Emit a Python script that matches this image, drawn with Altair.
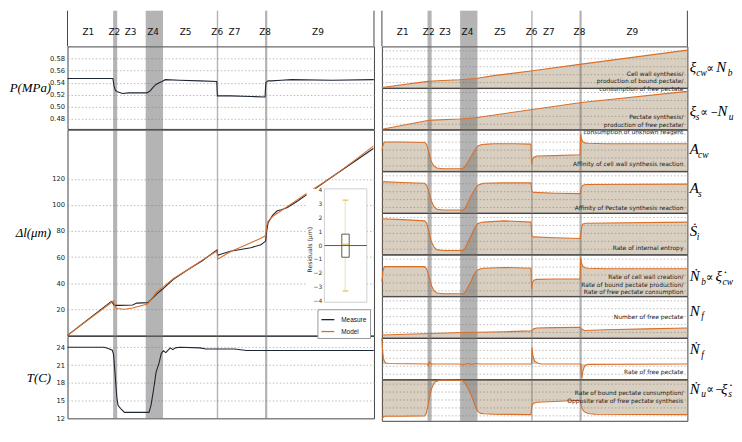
import altair as alt
import pandas as pd

# ---------------- zones / bands ----------------
ZONES = ["Z1", "Z2", "Z3", "Z4", "Z5", "Z6", "Z7", "Z8", "Z9"]
ZONE_T = [10.2, 23.0, 31.0, 42.0, 58.0, 73.5, 82.0, 97.0, 123.0]
BAND_START = [22.4, 38.4, 73.3, 97.0]
BAND_END = [24.4, 46.9, 74.0, 98.1]
TIME_TICKS = [0, 20, 40, 60, 80, 100, 120, 140]

P_TICKS = [0.48, 0.50, 0.52, 0.54, 0.56, 0.58]
DL_TICKS = [20, 40, 60, 80, 100, 120]
T_TICKS = [12, 15, 18, 21, 24]
R_GRID = [0.14, 0.33, 0.52, 0.71, 0.90]
RES_TICKS = [-4, -3, -2, -1, 0, 1, 2, 3, 4]

# ---------------- left column series ----------------
P_T = [0, 22.3, 22.8, 23.5, 24.5, 27, 30, 39, 40.5, 42, 43.5, 45, 46.5, 48, 55, 65, 73.3, 73.6,
       80, 90, 97.0, 97.4, 98.5, 100, 105, 110, 130, 150.4]
P_V = [0.547, 0.547, 0.535, 0.527, 0.525, 0.522, 0.523, 0.523, 0.526, 0.532, 0.537, 0.540, 0.542,
       0.545, 0.544, 0.543, 0.542, 0.518, 0.518, 0.517, 0.516, 0.540, 0.543, 0.543, 0.544, 0.545,
       0.544, 0.545]

DLM_T = [0, 21.5, 22.3, 23, 26, 32, 34, 39.5, 41.5, 44, 46.6, 52, 59.8, 66, 73.4, 73.8, 76, 80,
         85, 90, 95, 97.3, 97.8, 98.5, 100.7, 103, 105, 108, 113, 120, 128, 135, 142, 150.2]
DLM_V = [0, 26.0, 24.5, 23.0, 23.0, 23.2, 24.7, 25.1, 28.2, 32.0, 35.3, 43.0, 51.0, 57.0, 65.5,
         61.4, 62.5, 64.5, 65.8, 67.2, 69.5, 72.3, 80.0, 86.3, 92.0, 95.5, 96.3, 98.0, 103.0,
         110.6, 119.5, 127.0, 134.5, 143.3]

DLO_T = [0, 22.7, 23.3, 24, 28, 32, 39.3, 42, 44, 46.6, 52, 59.8, 66, 73.4, 73.8, 76, 80.4, 85,
         90, 95, 97.3, 97.8, 98.5, 101, 104.7, 110, 120, 130, 140, 150.2]
DLO_V = [0, 26.5, 22.0, 20.5, 20.0, 21.0, 24.0, 29.5, 33.5, 36.6, 43.5, 51.0, 57.5, 64.7, 58.4,
         60.5, 64.5, 67.5, 71.0, 74.5, 76.5, 84.0, 87.5, 91.5, 95.3, 101.0, 111.5, 121.5, 133.0,
         145.1]

T_T = [0, 18, 20, 22, 22.6, 23.5, 24.2, 24.8, 26, 28, 40, 41, 42.2, 43.5, 45, 46, 47, 48.3, 49.4,
       50.5, 51.7, 53, 55, 65, 68, 82, 88, 150.4]
T_V = [24.0, 24.0, 23.8, 23.5, 22.8, 18.9, 15.6, 14.2, 13.7, 13.0, 13.0, 14.2, 16.7, 19.8, 21.4,
       22.9, 23.4, 23.1, 23.5, 23.9, 23.6, 23.9, 24.0, 23.9, 23.7, 23.7, 23.45, 23.45]

# residual box plot (um)
RES_Q1, RES_Q3, RES_MED, RES_LO, RES_HI = -0.85, 0.83, 0.1, -3.3, 3.3

# ---------------- right column series (relative units) ----------------
XI_CW = [(0, 0.0), (22.5, 0.15), (25, 0.16), (38, 0.19), (46, 0.22), (55, 0.29), (74, 0.41),
         (98, 0.57), (150, 0.91)]
XI_S = [(0, 0.0), (22.5, 0.21), (25, 0.22), (38, 0.25), (46, 0.28), (74, 0.48), (98, 0.65),
        (150, 0.92)]
A_CW = [(0, 0.50), (0.5, 0.62), (1.2, 0.70), (10, 0.70), (21, 0.69), (22, 0.64), (22.8, 0.50),
        (23.5, 0.36), (24.3, 0.22), (25.5, 0.12), (27, 0.07), (30, 0.05), (39.5, 0.05),
        (40.5, 0.09), (41.5, 0.16), (42.5, 0.24), (43.7, 0.34), (45, 0.45), (46.2, 0.55),
        (47.3, 0.61), (49, 0.64), (52, 0.65), (55, 0.66), (65, 0.66), (73.2, 0.65), (73.5, 0.16),
        (73.9, 0.28), (74.6, 0.33), (76, 0.36), (85, 0.37), (97.3, 0.39), (97.6, 0.89),
        (98.0, 0.78), (98.6, 0.71), (99.5, 0.68), (101, 0.67), (110, 0.66), (150, 0.66)]
A_S = [(0, 0.75), (10, 0.73), (21, 0.71), (22, 0.66), (22.8, 0.55), (23.5, 0.43), (24.3, 0.28),
       (25.5, 0.15), (27, 0.08), (30, 0.06), (40, 0.06), (41, 0.12), (42, 0.22), (43, 0.32),
       (44, 0.42), (45, 0.51), (46, 0.59), (47, 0.66), (48.5, 0.69), (50, 0.71), (60, 0.72),
       (73.2, 0.72), (73.6, 0.52), (74.5, 0.49), (85, 0.47), (97.3, 0.46), (97.8, 0.58),
       (98.5, 0.66), (100, 0.68), (150, 0.69)]
S_I = [(0, 0.86), (10, 0.84), (21, 0.81), (22, 0.75), (22.8, 0.60), (23.5, 0.46), (24.3, 0.30),
       (25.5, 0.18), (27, 0.11), (30, 0.09), (40, 0.09), (41, 0.16), (42, 0.27), (43, 0.37),
       (44, 0.47), (45, 0.58), (46, 0.67), (47, 0.74), (48.5, 0.77), (50, 0.78), (60, 0.81),
       (73.2, 0.78), (73.6, 0.45), (74.5, 0.42), (85, 0.40), (97.3, 0.38), (97.8, 0.58),
       (98.5, 0.73), (100, 0.75), (150, 0.78)]
N_B = [(0, 0.35), (0.5, 0.60), (1.2, 0.71), (10, 0.71), (21, 0.71), (22, 0.65), (22.8, 0.53),
       (23.5, 0.40), (24.3, 0.25), (25.5, 0.13), (27, 0.07), (30, 0.05), (40, 0.05), (41, 0.10),
       (42, 0.19), (43, 0.28), (44, 0.38), (45, 0.50), (46, 0.58), (47, 0.63), (48.5, 0.66),
       (50, 0.67), (60, 0.69), (73.2, 0.67), (73.5, 0.16), (73.9, 0.32), (74.6, 0.38), (76, 0.40),
       (85, 0.41), (97.3, 0.41), (97.6, 0.93), (98.0, 0.80), (98.6, 0.72), (99.5, 0.69),
       (101, 0.67), (110, 0.66), (150, 0.66)]
N_F = [(0, 0.06), (20, 0.09), (40, 0.12), (60, 0.14), (73.3, 0.16), (74.5, 0.21), (76, 0.23),
       (85, 0.24), (97.3, 0.25), (98.2, 0.20), (99.5, 0.17), (110, 0.19), (130, 0.21), (150, 0.23)]
NF_DOT = [(0, 1.0), (0.3, 0.72), (0.7, 0.52), (1.2, 0.43), (2, 0.39), (3, 0.38), (22.4, 0.37),
          (22.8, 0.33), (23.2, 0.42), (23.7, 0.40), (24.3, 0.36), (25, 0.37), (38, 0.37),
          (40, 0.35), (42, 0.38), (44, 0.36), (46, 0.38), (48, 0.37), (73.4, 0.37), (73.7, 0.77),
          (74.2, 0.55), (75, 0.44), (76.5, 0.39), (78, 0.37), (97.6, 0.37), (97.9, 0.15),
          (98.2, 0.02), (98.7, 0.20), (99.5, 0.31), (101, 0.36), (150, 0.37)]
NF_DOT_ZERO = 0.37
N_U = [(0, 0.03), (0.5, 0.08), (1.2, 0.11), (10, 0.11), (21, 0.12), (21.8, 0.18), (22.5, 0.33),
       (23.3, 0.55), (24.0, 0.72), (24.7, 0.82), (25.5, 0.90), (26.3, 0.95), (28, 0.98),
       (30, 0.99), (39.5, 0.98), (40.5, 0.93), (41.5, 0.85), (42.5, 0.76), (43.5, 0.66),
       (44.5, 0.54), (45.5, 0.40), (46.5, 0.27), (47.5, 0.21), (48.5, 0.18), (50, 0.17),
       (55, 0.16), (73.2, 0.15), (73.6, 0.35), (74.3, 0.42), (76, 0.45), (85, 0.47), (97.3, 0.50),
       (97.7, 0.40), (98.3, 0.30), (99, 0.24), (100, 0.20), (102, 0.17), (105, 0.16), (150, 0.15)]

# ---------------- style ----------------
DARK = "#1e2633"
ORANGE = "#d9702a"
TAN = "#7a5a2a"
TAN_OP = 0.29
BAND = "#6a6a6a"
BAND_OP = 0.5
GRID = "#a0a0a0"
FRAME = "#444444"

W_L, W_R = 309, 308
H_HEAD = 36
H_P, H_DL, H_T = 83.2, 207.3, 83
H_R = 41.5
XL = [0, 150.5]
XR = [0, 150]

bands_df = pd.DataFrame({"start": BAND_START, "end": BAND_END})
dummy = pd.DataFrame({"k": [0]})


def xscale(dom):
    return alt.Scale(domain=dom, nice=False, zero=False)


def grid_x_axis(bottom):
    if bottom:
        return alt.Axis(values=TIME_TICKS, grid=True, ticks=False, domain=False, labelFlush=False,
                        labelFontSize=6.8, labelPadding=2, title="Time (min)", titleFontSize=13,
                        titleFontWeight="normal", titlePadding=0, titleColor="#000")
    return alt.Axis(values=TIME_TICKS, grid=True, ticks=False, domain=False, labels=False,
                    title=None)


def left_axis(values, fmt, title, h):
    return alt.Axis(values=values, format=fmt, grid=True, ticks=False, domain=False,
                    labelFontSize=6.8, labelPadding=3, title=title, titleAngle=0,
                    titleAlign="right", titleBaseline="middle", titleX=-17, titleY=h / 2,
                    titleFont="Liberation Serif", titleFontStyle="italic",
                    titleFontWeight="normal", titleFontSize=13, titleColor="#000")


def band_layer(dom):
    return alt.Chart(bands_df).mark_rect(color=BAND, opacity=BAND_OP).encode(
        x=alt.X("start:Q", scale=xscale(dom), axis=None), x2="end:Q")


def header(dom, w):
    zdf = pd.DataFrame({"zone": ZONES, "t": ZONE_T})
    edges = pd.DataFrame({"e": dom})
    txt = alt.Chart(zdf).mark_text(fontSize=9, color="#111").encode(
        x=alt.X("t:Q", scale=xscale(dom), axis=None), y=alt.value(21), text="zone:N")
    rules = alt.Chart(edges).mark_rule(color=FRAME, strokeWidth=1).encode(
        x=alt.X("e:Q", scale=xscale(dom), axis=None))
    return alt.layer(band_layer(dom), rules, txt).properties(
        width=w, height=H_HEAD, view=alt.ViewBackground(stroke="transparent"))


# ---------------- left column ----------------
p_df = pd.DataFrame({"t": P_T, "v": P_V})
p_panel = alt.layer(
    band_layer(XL),
    alt.Chart(p_df).mark_line(color=DARK, strokeWidth=1.1).encode(
        x=alt.X("t:Q", scale=xscale(XL), axis=grid_x_axis(False)),
        y=alt.Y("v:Q", scale=alt.Scale(domain=[0.4628, 0.6005], nice=False, zero=False),
                axis=left_axis(P_TICKS, ".2f", "P(MPa)", H_P))),
).properties(width=W_L, height=H_P)

dl_df = pd.concat([
    pd.DataFrame({"t": DLM_T, "v": DLM_V, "series": "Measure"}),
    pd.DataFrame({"t": DLO_T, "v": DLO_V, "series": "Model"}),
])
dl_lines = alt.Chart(dl_df).mark_line(strokeWidth=1.1).encode(
    x=alt.X("t:Q", scale=xscale(XL), axis=grid_x_axis(False)),
    y=alt.Y("v:Q", scale=alt.Scale(domain=[0, 157.7], nice=False, zero=False),
            axis=left_axis(DL_TICKS, "d", "Δl(μm)", H_DL)),
    color=alt.Color("series:N",
                    scale=alt.Scale(domain=["Measure", "Model"], range=[DARK, ORANGE]),
                    legend=alt.Legend(orient="none", legendX=252, legendY=301, title=None,
                                      symbolType="stroke", symbolStrokeWidth=1.3,
                                      symbolSize=170, labelFontSize=6.5, labelColor="#111",
                                      strokeColor="#999999", fillColor="white", padding=3,
                                      rowPadding=1, labelOffset=6)),
)
dl_main = alt.layer(band_layer(XL), dl_lines)

# inset (residual box plot) with its own scales placed inside the panel
IX = alt.Scale(domain=[0, 1], range=[259.0, 301.8], nice=False, zero=False)
IY = alt.Scale(domain=[-4.12, 4.12], range=[174.0, 59.6], nice=False, zero=False)
frame_df = pd.DataFrame({"x0": [-0.42, 0.0], "x1": [1.0, 1.0], "y0": [-4.12, -4.12],
                         "y1": [4.12, 4.12]})
inset_bg = alt.Chart(frame_df.iloc[[0]]).mark_rect(fill="white").encode(
    x=alt.X("x0:Q", scale=IX, axis=None), x2="x1",
    y=alt.Y("y0:Q", scale=IY, axis=None), y2="y1")
inset_frame = alt.Chart(frame_df.iloc[[1]]).mark_rect(fill="white", stroke="#c4c4c4",
                                                      strokeWidth=0.8).encode(
    x=alt.X("x0:Q", scale=IX, axis=None), x2="x1",
    y=alt.Y("y0:Q", scale=IY, axis=None), y2="y1")
res_lab_df = pd.DataFrame({"y": RES_TICKS, "x": [-0.05] * len(RES_TICKS),
                           "lab": [str(v).replace("-", "−") for v in RES_TICKS]})
inset_labels = alt.Chart(res_lab_df).mark_text(align="right", baseline="middle", fontSize=6,
                                               color="#333").encode(
    x=alt.X("x:Q", scale=IX, axis=None), y=alt.Y("y:Q", scale=IY, axis=None), text="lab:N")
res_title_df = pd.DataFrame({"x": [-0.34], "y": [-0.3]})
inset_title = alt.Chart(res_title_df).mark_text(text="Residuals (μm)", angle=270,
                                                baseline="middle", fontSize=6.2,
                                                color="#333").encode(
    x=alt.X("x:Q", scale=IX, axis=None), y=alt.Y("y:Q", scale=IY, axis=None))
whisk_df = pd.DataFrame({"x": [0.49], "lo": [RES_LO], "hi": [RES_HI]})
inset_whisk = alt.Chart(whisk_df).mark_rule(color="#e4d9a0", strokeWidth=0.8).encode(
    x=alt.X("x:Q", scale=IX, axis=None), y=alt.Y("lo:Q", scale=IY, axis=None), y2="hi")
caps_df = pd.DataFrame({"x0": [0.43, 0.43], "x1": [0.565, 0.565], "y": [RES_LO, RES_HI]})
inset_caps = alt.Chart(caps_df).mark_rule(color="#d8b830", strokeWidth=1).encode(
    x=alt.X("x0:Q", scale=IX, axis=None), x2="x1", y=alt.Y("y:Q", scale=IY, axis=None))
box_df = pd.DataFrame({"x0": [0.41], "x1": [0.585], "q1": [RES_Q1], "q3": [RES_Q3]})
inset_box = alt.Chart(box_df).mark_rect(fill="white", stroke="#333", strokeWidth=0.8).encode(
    x=alt.X("x0:Q", scale=IX, axis=None), x2="x1",
    y=alt.Y("q1:Q", scale=IY, axis=None), y2="q3")
zero_df = pd.DataFrame({"x0": [0.0], "x1": [1.0], "y": [0.0]})
inset_zero = alt.Chart(zero_df).mark_rule(color="#555", strokeWidth=1).encode(
    x=alt.X("x0:Q", scale=IX, axis=None), x2="x1", y=alt.Y("y:Q", scale=IY, axis=None))
med_df = pd.DataFrame({"x0": [0.41], "x1": [0.585], "y": [RES_MED]})
inset_med = alt.Chart(med_df).mark_rule(color="#d8b830", strokeWidth=1).encode(
    x=alt.X("x0:Q", scale=IX, axis=None), x2="x1", y=alt.Y("y:Q", scale=IY, axis=None))
inset = alt.layer(inset_bg, inset_frame, inset_labels, inset_title, inset_whisk, inset_caps,
                  inset_box, inset_zero, inset_med)

dl_panel = alt.layer(dl_main, inset).resolve_scale(x="independent", y="independent").properties(
    width=W_L, height=H_DL)

t_df = pd.DataFrame({"t": T_T, "v": T_V})
t_panel = alt.layer(
    band_layer(XL),
    alt.Chart(t_df).mark_line(color=DARK, strokeWidth=1.1).encode(
        x=alt.X("t:Q", scale=xscale(XL), axis=grid_x_axis(True)),
        y=alt.Y("v:Q", scale=alt.Scale(domain=[12, 25.9], nice=False, zero=False),
                axis=left_axis(T_TICKS, "d", "T(C)", H_T))),
).properties(width=W_L, height=H_T)

left_col = alt.vconcat(header(XL, W_L), p_panel, dl_panel, t_panel, spacing=0, bounds="flush")


# ---------------- right column ----------------
def seg_layers(segs, base_y):
    out = []
    for txt, dx, kind in segs:
        if kind == "m":
            mk = dict(font="Liberation Serif", fontStyle="italic", fontSize=15)
            y = base_y
        elif kind == "s":
            mk = dict(font="Liberation Serif", fontStyle="italic", fontSize=9.5)
            y = base_y + 3.5
        elif kind == "n":
            mk = dict(font="DejaVu Serif", fontSize=9)
            y = base_y - 1.5
        else:
            mk = dict(font="DejaVu Serif", fontSize=11.5)
            y = base_y - 0.5
        out.append(alt.Chart(dummy).mark_text(text=txt, align="left", baseline="alphabetic",
                                              color="#000", **mk).encode(
            x=alt.value(W_R + dx), y=alt.value(y)))
    return out


RIGHT = [
    dict(data=XI_CW, base=0.0,
         desc=["Cell wall synthesis/", "production of bound pectate/",
               "consumption of free pectate"], dy=27.8, lb=26.0,
         label=[("ξ", 2.4, "m"), ("cw", 9, "s"), ("∝", 19, "u"), ("N", 29, "m"),
                ("b", 40.7, "s")]),
    dict(data=XI_S, base=0.0,
         desc=["Pectate synthesis/", "production of free pectate/",
               "consumption of unknown reagent"], dy=29.5, lb=28.5,
         label=[("ξ", 2.4, "m"), ("s", 8.4, "s"), ("∝", 13.0, "u"), ("−", 23.2, "n"),
                ("N", 30.4, "m"), ("u", 41.7, "s")]),
    dict(data=A_CW, base=0.0, desc=["Affinity of cell wall synthesis reaction"], dy=34.7,
         lb=24.7, label=[("A", 2.4, "m"), ("cw", 10.7, "s")]),
    dict(data=A_S, base=0.0, desc=["Affinity of Pectate synthesis reaction"], dy=37.2,
         lb=22.2, label=[("A", 2.4, "m"), ("s", 10.7, "s")]),
    dict(data=S_I, base=0.0, desc=["Rate of internal entropy"], dy=35.0, lb=23.3,
         label=[("Ṡ", 2.4, "m"), ("i", 9.5, "s")]),
    dict(data=N_B, base=0.0,
         desc=["Rate of cell wall creation/", "Rate of bound pectate production/",
               "Rate of free pectate consumption"], dy=22.7, lb=26.8,
         label=[("Ṅ", 2.4, "m"), ("b", 14, "s"), ("∝", 18.4, "u"), ("ξ̇", 28.4, "m"),
                ("cw", 35.5, "s")]),
    dict(data=N_F, base=0.0, desc=["Number of free pectate"], dy=21.3, lb=19.7,
         label=[("N", 2.4, "m"), ("f", 14, "s")]),
    dict(data=NF_DOT, base=NF_DOT_ZERO, desc=["Rate of free pectate"], dy=34.8, lb=16.2,
         label=[("Ṅ", 2.4, "m"), ("f", 14, "s")]),
    dict(data=N_U, base=1.0,
         desc=["Rate of bound pectate consumption/", "Opposite rate of free pectate synthesis"],
         dy=13.7, lb=14.0,
         label=[("Ṅ", 2.4, "m"), ("u", 14, "s"), ("∝", 19, "u"), ("−", 28.0, "n"),
                ("ξ̇", 34, "m"), ("s", 41.3, "s")]),
]


def right_panel(cfg, bottom):
    df = pd.DataFrame(cfg["data"], columns=["t", "v"])
    X = alt.X("t:Q", scale=xscale(XR), axis=grid_x_axis(bottom))
    Y = alt.Y("v:Q", scale=alt.Scale(domain=[0, 1], nice=False, zero=False),
              axis=alt.Axis(values=R_GRID, grid=True, labels=False, ticks=False, domain=False,
                            title=None))
    area = alt.Chart(df).mark_area(color=TAN, opacity=TAN_OP).encode(
        x=X, y=Y, y2=alt.datum(cfg["base"]))
    line = alt.Chart(df).mark_line(color=ORANGE, strokeWidth=1.1).encode(x=X, y=Y)
    desc = alt.Chart(dummy).mark_text(text=cfg["desc"], align="right", baseline="middle",
                                      fontSize=6, lineHeight=7.4, color="#222").encode(
        x=alt.value(W_R - 4), y=alt.value(cfg["dy"]))
    layers = [area, band_layer(XR), line, desc] + seg_layers(cfg["label"], cfg["lb"])
    return alt.layer(*layers).properties(width=W_R, height=H_R)


right_panels = [right_panel(c, i == len(RIGHT) - 1) for i, c in enumerate(RIGHT)]
right_col = alt.vconcat(header(XR, W_R), *right_panels, spacing=0, bounds="flush")

chart = alt.hconcat(left_col, right_col, spacing=2).properties(padding=0).configure_view(
    stroke=FRAME, strokeWidth=1
).configure_axis(
    gridColor=GRID, gridDash=[1.5, 2], gridWidth=0.7, labelColor="#222",
    labelFont="DejaVu Sans", titleFont="DejaVu Sans"
).configure_text(font="DejaVu Sans")

chart.save("out.html", embed_options={"renderer": "svg", "actions": False})
